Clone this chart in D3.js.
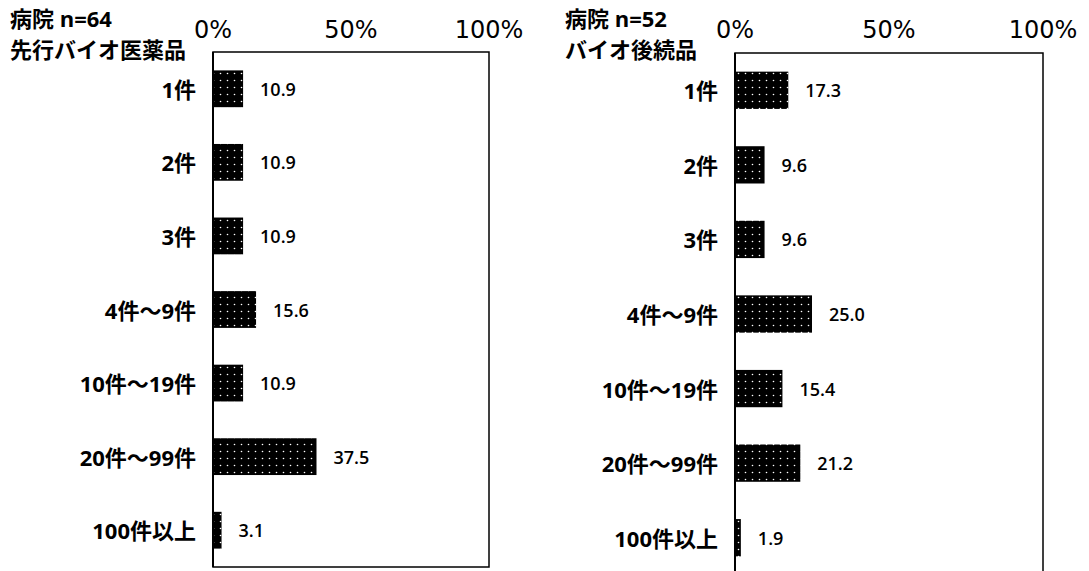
<!DOCTYPE html>
<html><head><meta charset="utf-8">
<script src="https://cdn.jsdelivr.net/npm/d3@7"></script>
<style>body{margin:0;background:#fff}svg{display:block}</style>
</head><body>
<svg id="c" width="1089" height="571"></svg>
<script>
const categories = ["1件","2件","3件","4件～9件","10件～19件","20件～99件","100件以上"];
const valuesLeft = [10.9,10.9,10.9,15.6,10.9,37.5,3.1];
const valuesRight = [17.3,9.6,9.6,25.0,15.4,21.2,1.9];
const ticks = [0,50,100];
const tickLabels = ["0%","50%","100%"];
const titlesLeft = ["病院 n=64","先行バイオ医薬品"];
const titlesRight = ["病院 n=52","バイオ後続品"];

const svg = d3.select("#c");
const cjk = "'Noto Sans CJK JP', sans-serif";
const mixed = "'Open Sans', 'Noto Sans CJK JP', sans-serif";
const defs = svg.append("defs");
const P = 7;
const pat = defs.append("pattern").attr("id","dots").attr("patternUnits","userSpaceOnUse")
  .attr("width",P).attr("height",P);
pat.append("rect").attr("width",P).attr("height",P).attr("fill","#000");
pat.append("circle").attr("cx",P/2).attr("cy",P/2).attr("r",0.8).attr("fill","#fff");

function panel(cfg){
  const x = d3.scaleLinear().domain([0,100]).range([cfg.x0,cfg.x1]);
  const y = d3.scaleBand().domain(categories).range([cfg.y0,cfg.y1]).paddingInner(0.5).paddingOuter(0.25);
  const g = svg.append("g");
  g.append("rect").attr("x",cfg.x0).attr("y",cfg.y0).attr("width",cfg.x1-cfg.x0).attr("height",cfg.y1-cfg.y0)
    .attr("fill","none").attr("stroke","#000").attr("stroke-width",1.5);
  g.selectAll(".tl").data(ticks).join("text")
    .attr("x",d=>x(d)).attr("y",38).attr("text-anchor","middle")
    .attr("font-family","'DejaVu Sans', sans-serif").attr("font-size",24).attr("fill","#000")
    .text((d,i)=>tickLabels[i]);
  g.selectAll(".bar").data(cfg.values).join("rect")
    .attr("x",x(0)).attr("y",(d,i)=>y(categories[i]))
    .attr("width",d=>x(d)-x(0)).attr("height",y.bandwidth())
    .attr("fill","url(#dots)");
  g.selectAll(".vl").data(cfg.values).join("text")
    .attr("x",d=>x(d)+17).attr("y",(d,i)=>y(categories[i])+y.bandwidth()/2+7)
    .attr("font-family",mixed).attr("font-size",18).attr("font-weight",600).attr("fill","#000")
    .text(d=>d.toFixed(1));
  g.selectAll(".cl").data(categories).join("text")
    .attr("x",cfg.x0-17).attr("y",d=>y(d)+y.bandwidth()/2+9)
    .attr("text-anchor","end").attr("font-family",mixed).attr("font-size",22).attr("font-weight",700).attr("fill","#000")
    .text(d=>d);
  g.append("line").attr("x1",cfg.x0).attr("x2",cfg.x0).attr("y1",cfg.y0).attr("y2",cfg.y1)
    .attr("stroke","#000").attr("stroke-width",2);
  g.selectAll(".tt").data(cfg.titles).join("text")
    .attr("x",cfg.tx).attr("y",(d,i)=>27+i*31)
    .attr("font-family",mixed).attr("font-size",22).attr("font-weight",700).attr("fill","#000")
    .text(d=>d);
}
panel({x0:213,x1:489,y0:52,y1:567,values:valuesLeft,titles:titlesLeft,tx:10});
panel({x0:735,x1:1043,y0:53,y1:575,values:valuesRight,titles:titlesRight,tx:565});
</script>
</body></html>
